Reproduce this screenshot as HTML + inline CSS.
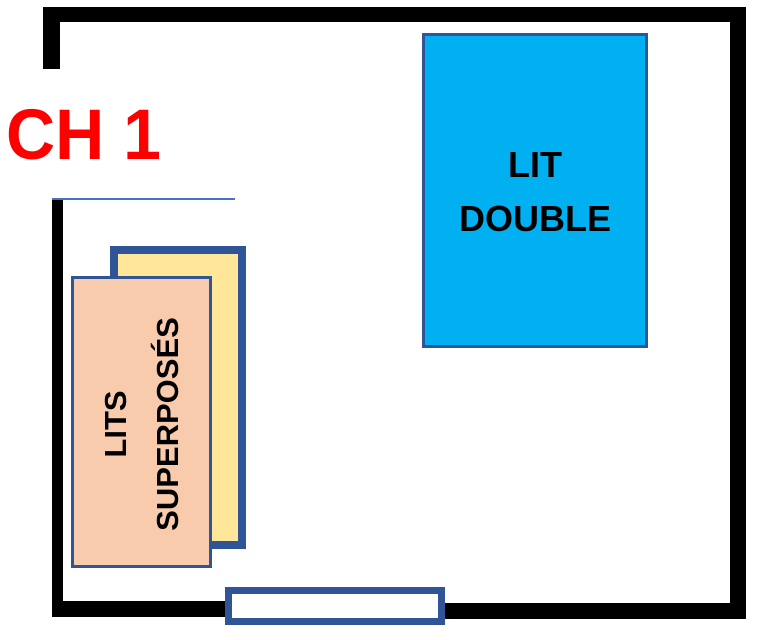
<!DOCTYPE html>
<html><head><style>
body{margin:0;width:760px;height:640px;background:#fff;position:relative;overflow:hidden;font-family:"Liberation Sans",sans-serif}
div{position:absolute;box-sizing:border-box}
.b{background:#000}
</style></head><body>
<div class="b" style="left:43px;top:7px;width:703px;height:15px"></div>
<div class="b" style="left:43px;top:7px;width:17px;height:62px"></div>
<div class="b" style="left:730px;top:7px;width:16px;height:611px"></div>
<div class="b" style="left:52px;top:200px;width:11px;height:417px"></div>
<div class="b" style="left:52px;top:601px;width:180px;height:16px"></div>
<div class="b" style="left:440px;top:603px;width:306px;height:16px"></div>
<div style="left:52px;top:198px;width:183px;height:2px;background:#4472c4"></div>
<div style="left:225px;top:587px;width:220px;height:38px;border:7px solid #2f5597;background:#fff"></div>
<div style="left:6px;top:95px;font-size:68px;font-weight:bold;color:#ff0000;line-height:80px;transform:scaleY(1.05)">CH 1</div>
<div style="left:422px;top:33px;width:226px;height:315px;background:#00b0f0;border:3px solid #2f5597"></div>
<div style="left:422px;top:138px;width:226px;text-align:center;font-size:36px;font-weight:bold;line-height:54px">LIT<br>DOUBLE</div>
<div style="left:110px;top:246px;width:136px;height:303px;background:#ffe699;border:8px solid #2f5597"></div>
<div style="left:71px;top:276px;width:141px;height:292px;background:#f8cbad;border:3px solid #2f5597"></div>
<div style="left:-4px;top:372px;width:292px;text-align:center;transform:rotate(-90deg);font-size:31px;font-weight:bold;line-height:52px">LITS<br>SUPERPOSÉS</div>
</body></html>
